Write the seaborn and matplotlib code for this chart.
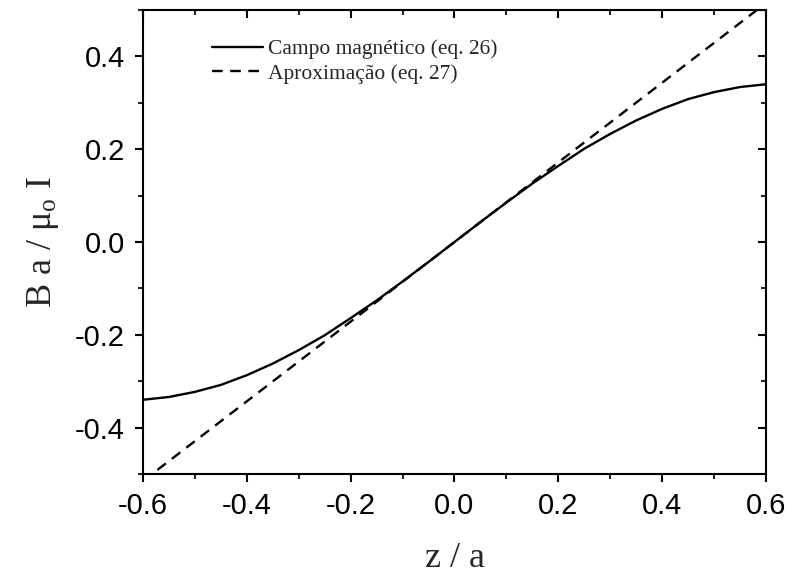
import numpy as np
import pandas as pd
import matplotlib
matplotlib.use("Agg")
import matplotlib.pyplot as plt
import seaborn as sns
from matplotlib.ticker import MultipleLocator

# Data
z_field = [-0.60, -0.55, -0.50, -0.45, -0.40, -0.35, -0.30, -0.25, -0.20, -0.15, -0.10, -0.05,
           0.00, 0.05, 0.10, 0.15, 0.20, 0.25, 0.30, 0.35, 0.40, 0.45, 0.50, 0.55, 0.60]
b_field = [-0.340, -0.334, -0.323, -0.308, -0.287, -0.262, -0.233, -0.201, -0.164, -0.126, -0.085, -0.043,
           0.000, 0.043, 0.085, 0.126, 0.164, 0.201, 0.233, 0.262, 0.287, 0.308, 0.323, 0.334, 0.340]
z_approx = [-0.60, 0.60]
b_approx = [-0.515, 0.515]

label_field = "Campo magnético (eq. 26)"
label_approx = "Aproximação (eq. 27)"

sns.set_theme(style="ticks")
plt.rcParams["font.family"] = ["Liberation Sans", "DejaVu Sans"]
plt.rcParams["mathtext.fontset"] = "custom"
plt.rcParams["mathtext.rm"] = "Liberation Serif"
plt.rcParams["mathtext.it"] = "Liberation Serif:italic"

fig = plt.figure(figsize=(8.03, 5.78), dpi=100)
ax = fig.add_axes([143 / 803, 104 / 578, 623 / 803, 464 / 578])

df_f = pd.DataFrame({"z": z_field, "B": b_field})
df_a = pd.DataFrame({"z": z_approx, "B": b_approx})
sns.lineplot(data=df_f, x="z", y="B", ax=ax, color="black", linewidth=1.7,
             label=label_field, sort=True)
sns.lineplot(data=df_a, x="z", y="B", ax=ax, color="black", linewidth=1.7,
             linestyle=(0, (4.5, 3.2)), label=label_approx)

ax.set_xlim(-0.6, 0.6)
ax.set_ylim(-0.5, 0.5)
ax.xaxis.set_minor_locator(MultipleLocator(0.1))
ax.yaxis.set_minor_locator(MultipleLocator(0.1))
ax.set_xticks([-0.6, -0.4, -0.2, 0.0, 0.2, 0.4, 0.6])
ax.set_xticklabels(["-0.6", "-0.4", "-0.2", "0.0", "0.2", "0.4", "0.6"])
ax.set_yticks([-0.4, -0.2, 0.0, 0.2, 0.4])
ax.set_yticklabels(["-0.4", "-0.2", "0.0", "0.2", "0.4"])

for sp in ax.spines.values():
    sp.set_visible(True)
    sp.set_linewidth(1.5)
    sp.set_color("black")

ax.tick_params(which="major", direction="out", length=6, width=1.5, labelsize=21,
               pad=7, colors="black", top=True, right=True)
ax.tick_params(which="minor", direction="out", length=3.5, width=1.5,
               top=True, right=True)
# mirrored axes: ticks drawn inward
for t in ax.xaxis.get_major_ticks() + ax.xaxis.get_minor_ticks():
    t.tick2line.set_marker(matplotlib.lines.TICKDOWN)
for t in ax.yaxis.get_major_ticks() + ax.yaxis.get_minor_ticks():
    t.tick2line.set_marker(matplotlib.lines.TICKLEFT)

ax.set_xlabel("z / a", fontsize=26, family="Liberation Serif", labelpad=16)
ax.set_ylabel(r"B a / μ$_\mathrm{o}$ I", fontsize=26, family="Liberation Serif", labelpad=10)

ax.legend(loc="upper left", bbox_to_anchor=(0.111, 0.937), frameon=False,
          prop={"family": "Liberation Serif", "size": 15.5}, handlelength=2.35,
          handletextpad=0.25, labelspacing=0.2, borderpad=0, borderaxespad=0)

fig.savefig("out.png", dpi=100)
